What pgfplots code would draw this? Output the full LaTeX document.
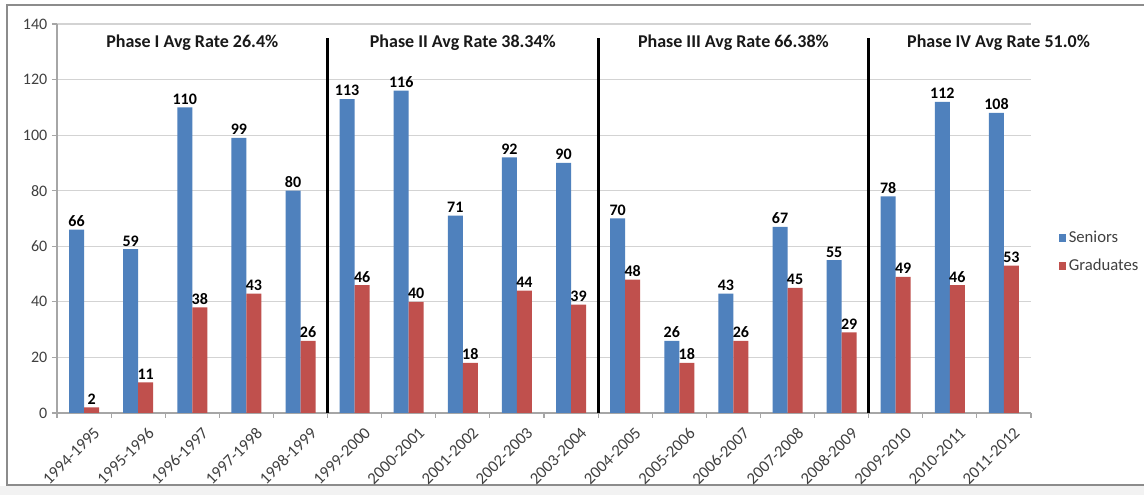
\documentclass[border=0pt]{standalone}
\usepackage{fontspec}
\setmainfont{Carlito}
\usepackage{pgfplots}
\usepackage{pgfplotstable}
\pgfplotsset{compat=1.18}

\definecolor{exblue}{HTML}{4F81BD}
\definecolor{exred}{HTML}{C0504D}
\definecolor{gridgray}{HTML}{D3D3D3}
\definecolor{axgray}{HTML}{A6A6A6}
\definecolor{txtgray}{HTML}{404040}

% Seniors and graduates per school year (index 0 = 1994-1995)
\pgfplotstableread{
x  seniors grads
0  66  2
1  59  11
2  110 38
3  99  43
4  80  26
5  113 46
6  116 40
7  71  18
8  92  44
9  90  39
10 70  48
11 26  18
12 43  26
13 67  45
14 55  29
15 78  49
16 112 46
17 108 53
}\data

\begin{document}
\begin{tikzpicture}[x=0.75pt,y=0.75pt]
\useasboundingbox (-57,-82) rectangle (1087,413);
\fill[white] (-57,-82) rectangle (1087,413);
\fill[black!5] (-57,-82) rectangle (1087,-73);
\draw[black!45, line width=1.1pt] (-50,-72) rectangle (1100,408);
\begin{axis}[
  at={(0,0)}, anchor=south west,
  scale only axis, width=730.5pt, height=291.75pt,
  clip=false,
  ybar=0pt, bar width=11.25pt,
  xmin=-0.5, xmax=17.5, ymin=0, ymax=140,
  ytick={0,20,...,140},
  xtick={0,...,17},
  xticklabels={1994-1995,1995-1996,1996-1997,1997-1998,1998-1999,1999-2000,2000-2001,2001-2002,2002-2003,2003-2004,2004-2005,2005-2006,2006-2007,2007-2008,2008-2009,2009-2010,2010-2011,2011-2012},
  minor xtick={-0.5,0.5,...,17.5},
  every major x tick/.append style={draw=none},
  tick align=outside,
  major tick length=3.75pt, minor tick length=3.75pt,
  tick style={axgray, line width=0.8pt},
  axis x line*=bottom, axis y line*=left,
  axis line style={axgray, line width=0.9pt, -},
  ymajorgrids,
  grid style={gridgray, line width=0.9pt},
  /pgf/number format/assume math mode=true,
  yticklabel style={font=\fontsize{12}{14}\selectfont, text=txtgray},
  xticklabel style={font=\fontsize{12.5}{15}\selectfont, text=txtgray, rotate=45,
    anchor=north east, inner sep=1pt, yshift=-8pt, xshift=1.5pt},
  nodes near coords,
  every node near coord/.append style={font=\bfseries\fontsize{12}{14}\selectfont, black, inner sep=2pt},
  legend style={at={(1.024,0.414)}, anchor=west, draw=none, fill=none,
    font=\fontsize{12.5}{15}\selectfont, text=txtgray, row sep=7pt},
  legend cell align=left,
  legend image code/.code={\fill[#1] (0pt,-2.8pt) rectangle (5.6pt,2.8pt);},
]
\addplot[fill=exblue, draw=none] table[x=x, y=seniors]{\data};
\addplot[fill=exred, draw=none] table[x=x, y=grads]{\data};
\legend{Seniors, Graduates}

% phase separators
\draw[black, line width=2.4pt] (axis cs:4.5,0) -- (axis cs:4.5,135);
\draw[black, line width=2.4pt] (axis cs:9.5,0) -- (axis cs:9.5,135);
\draw[black, line width=2.4pt] (axis cs:14.5,0) -- (axis cs:14.5,135);

% phase titles
\begin{scope}[every node/.style={font=\bfseries\fontsize{13.5}{16}\selectfont, text=black!90}]
\node at (axis cs:2,133.2) {Phase I Avg Rate 26.4\%};
\node at (axis cs:7,133.2) {Phase II Avg Rate 38.34\%};
\node at (axis cs:12,133.2) {Phase III Avg Rate 66.38\%};
\node at (axis cs:16.9,133.2) {Phase IV Avg Rate 51.0\%};
\end{scope}
\end{axis}
\end{tikzpicture}
\end{document}
